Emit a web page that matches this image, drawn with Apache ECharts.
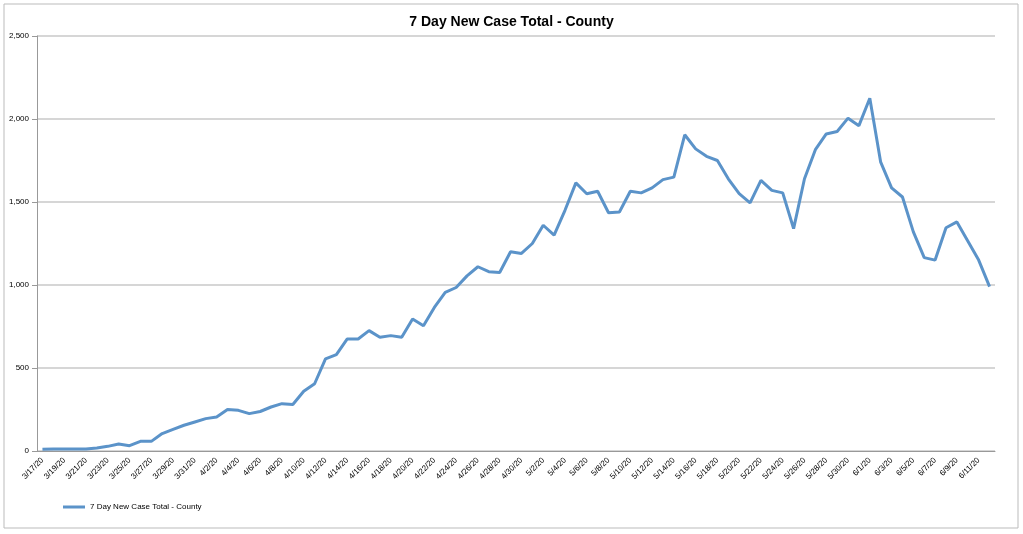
<!DOCTYPE html>
<html lang="en">
<head>
    <meta charset="UTF-8">
    <title>7 Day New Case Total - County</title>
    <script src="https://cdn.jsdelivr.net/npm/echarts@6/dist/echarts.min.js"></script>
    <style>html,body{margin:0;height:100%;background:#fff}</style>
</head>
<body>
<div id="myDiv" style="width: 1023px;height: 534px"></div>
<script>
    // dates 3/17/20 .. 6/12/20
    var dates = [];
    var months = [[3, 17, 31], [4, 1, 30], [5, 1, 31], [6, 1, 12]];
    for (var m = 0; m < months.length; m++) {
        for (var d = months[m][1]; d <= months[m][2]; d++) {
            dates.push(months[m][0] + "/" + d + "/20");
        }
    }
    var cases = [10, 12, 12, 12, 12, 18, 28, 42, 32, 58,
        58, 105, 130, 155, 175, 195, 205, 250, 245, 225,
        238, 265, 285, 280, 360, 405, 555, 580, 675, 675,
        725, 685, 695, 685, 795, 755, 865, 955, 985, 1055,
        1110, 1080, 1075, 1200, 1190, 1250, 1360, 1300, 1450, 1615,
        1550, 1565, 1435, 1440, 1565, 1555, 1585, 1635, 1650, 1905,
        1820, 1775, 1750, 1640, 1550, 1495, 1630, 1570, 1555, 1340,
        1640, 1815, 1910, 1925, 2005, 1960, 2125, 1740, 1585, 1530,
        1320, 1165, 1150, 1345, 1380, 1265, 1150, 990];
    var seriesName = "7 Day New Case Total - County";

    var mainChart = echarts.init(document.getElementById("myDiv"));
    var option = {
        animation: false,
        title: {
            text: "7 Day New Case Total - County",
            left: "center",
            top: 10,
            textStyle: {fontFamily: "Liberation Sans", fontSize: 14, fontWeight: "bold", color: "#000"}
        },
        graphic: [{
            type: "rect",
            shape: {x: 4, y: 4, width: 1014, height: 524},
            style: {fill: "none", stroke: "#bbb", lineWidth: 1}
        }],
        legend: {
            left: 58,
            top: 498,
            icon: "rect",
            itemWidth: 22,
            itemHeight: 3,
            textStyle: {fontFamily: "Liberation Sans", fontSize: 8, color: "#000"},
            data: [seriesName]
        },
        grid: {left: 37, right: 28, top: 36, bottom: 83},
        xAxis: {
            type: "category",
            data: dates,
            axisLine: {lineStyle: {color: "#999"}},
            axisTick: {interval: 1, lineStyle: {color: "#999"}},
            axisLabel: {interval: 1, rotate: 45, fontSize: 8, fontFamily: "Liberation Sans", color: "#000"}
        },
        yAxis: {
            type: "value",
            min: 0,
            max: 2500,
            interval: 500,
            axisLine: {show: true, lineStyle: {color: "#999"}},
            axisTick: {show: true, lineStyle: {color: "#999"}},
            axisLabel: {fontSize: 8, fontFamily: "Liberation Sans", color: "#000"},
            splitLine: {lineStyle: {color: "#c8c8c8", width: 1.5}}
        },
        series: [{
            name: seriesName,
            type: "line",
            data: cases,
            symbol: "none",
            lineStyle: {color: "#5b93c9", width: 3},
            itemStyle: {color: "#5b93c9"}
        }]
    };
    mainChart.setOption(option);
</script>
</body>
</html>
